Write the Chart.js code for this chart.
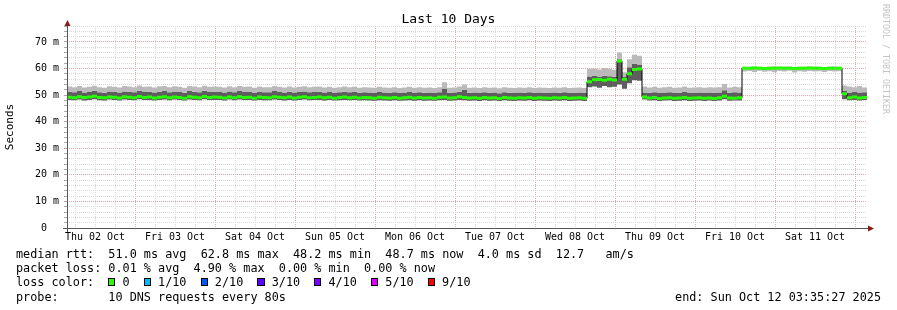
<!DOCTYPE html>
<html>
<head>
<meta charset="utf-8">
<script src="https://cdn.jsdelivr.net/npm/chart.js@4/dist/chart.umd.min.js"></script>
<style>
  html, body { margin:0; padding:0; background:#fff; }
  #wrap { position:relative; width:897px; height:310px; overflow:hidden;
          font-family:"DejaVu Sans Mono", monospace; color:#000; }
  #grafico { position:absolute; left:0; top:0; }
  #titulo { position:absolute; left:0; top:11px; width:897px; text-align:center;
            font-size:13px; line-height:16px; }
  #credito { position:absolute; left:881px; top:4px; writing-mode:vertical-rl;
             font-size:8.3px; color:#c4c4c4; }
  #rodape { position:absolute; left:16px; top:247px; width:865px;
            font-size:11.8px; line-height:14.2px; }
  #rodape > div { white-space:pre; height:14.2px; }
  .caixa { display:inline-block; width:1ch; height:8px; box-sizing:border-box;
           border:1px solid #000; vertical-align:middle; margin-top:-2px; }
  .ultima { display:flex; justify-content:space-between; }
</style>
</head>
<body>
<div id="wrap">
  <canvas id="grafico" width="897" height="310"></canvas>
  <div id="titulo">Last 10 Days</div>
  <div id="credito">RRDTOOL / TOBI OETIKER</div>
  <div id="rodape"><div>median rtt:  51.0 ms avg  62.8 ms max  48.2 ms min  48.7 ms now  4.0 ms sd  12.7   am/s</div><div>packet loss: 0.01 % avg  4.90 % max  0.00 % min  0.00 % now</div><div id="linhaPerda"></div><div class="ultima"><span>probe:       10 DNS requests every 80s</span><span>end: Sun Oct 12 03:35:27 2025</span></div></div>
</div>

<script>
// ===============================
// DADOS (um ponto a cada 1,5 h, início Thu 02 Oct 03:35)
// ===============================
const PASSO = 1.5;          // horas por amostra
const TOTAL_HORAS = 240;    // 10 dias
const MEIA_NOITE = 20.409;  // primeira meia-noite (Fri 03 Oct 00:00) em horas

const dias = ["Thu 02 Oct","Fri 03 Oct","Sat 04 Oct","Sun 05 Oct","Mon 06 Oct",
              "Tue 07 Oct","Wed 08 Oct","Thu 09 Oct","Fri 10 Oct","Sat 11 Oct"];

// mediana rtt (ms)
const mediana = [
  49.2,49.0,49.4,49.1,49.3,49.6,49.1,49.0,49.3,49.2,
  48.9,49.4,49.2,49.0,49.5,49.1,49.3,48.9,49.2,49.4,
  49.0,49.3,49.1,48.8,49.4,49.2,49.0,49.5,49.1,49.3,
  49.2,48.9,49.3,49.0,49.4,49.1,49.2,48.8,49.3,49.1,
  49.0,49.4,49.2,49.0,49.3,48.9,49.2,49.4,49.0,49.1,
  49.3,49.0,49.2,48.8,49.1,49.3,49.0,49.2,48.9,49.1,
  49.0,48.8,49.2,49.0,48.9,49.1,48.8,49.0,49.2,48.9,
  49.1,48.9,49.0,48.8,49.2,49.3,48.9,49.0,49.4,49.1,
  48.9,49.0,48.8,49.1,48.9,49.0,48.7,49.1,48.9,48.8,
  49.0,48.9,49.1,48.8,49.0,48.9,48.8,49.0,48.9,49.1,
  48.8,48.9,49.0,48.8,55.0,55.8,55.9,55.6,56.0,55.7,
  62.8,56.0,58.0,59.6,59.8,49.3,48.9,49.1,48.7,48.9,
  49.0,48.8,48.9,49.1,48.8,48.9,49.0,48.8,48.9,48.7,
  49.0,49.6,48.9,48.8,49.0,60.1,60.1,60.2,60.1,60.0,
  60.1,60.1,60.2,60.1,60.1,60.0,60.1,60.1,60.2,60.1,
  60.1,60.0,60.1,60.1,60.1,50.5,49.0,49.3,48.9,49.1
];

// fumaça: topo (claro)
const fumacaAlta = [
  53.2,53.0,53.4,52.9,53.1,53.5,53.0,52.8,53.3,53.1,
  52.9,53.4,53.2,53.0,53.6,53.1,53.2,52.9,53.3,53.4,
  53.0,53.3,53.1,52.8,53.4,53.2,53.0,53.5,53.1,53.2,
  53.1,52.9,53.3,53.0,53.4,53.1,53.2,52.8,53.2,53.0,
  53.0,53.4,53.1,52.9,53.2,52.9,53.1,53.3,53.0,53.1,
  53.2,52.9,53.1,52.8,53.0,53.2,53.0,53.1,52.8,53.0,
  52.9,52.8,53.1,52.9,52.8,53.0,52.7,52.9,53.1,52.8,
  53.0,52.8,52.9,52.7,53.0,54.8,52.8,52.9,53.2,54.0,
  52.8,52.9,52.7,53.0,52.8,52.9,52.6,53.0,52.8,52.7,
  52.9,52.8,53.0,52.7,52.9,52.8,52.7,52.9,52.8,53.0,
  52.7,52.8,52.9,52.7,59.8,60.0,59.6,60.2,59.9,59.5,
  66.0,58.6,63.5,65.2,64.8,53.2,52.9,53.1,52.8,53.0,
  53.1,52.8,52.9,53.2,52.8,52.9,53.0,52.8,53.0,52.9,
  53.0,54.2,52.9,53.1,53.0,60.7,60.7,60.8,60.7,60.6,
  60.7,60.8,60.7,60.7,60.8,60.6,60.7,60.7,60.8,60.7,
  60.7,60.6,60.7,60.8,60.7,53.6,53.2,53.0,53.4,52.9
];

// fumaça: início da faixa escura
const fumacaMeio = [
  51.3,51.1,51.5,51.0,51.2,51.6,51.1,50.9,51.4,51.2,
  51.0,51.4,51.3,51.1,51.6,51.2,51.3,51.0,51.3,51.5,
  51.1,51.4,51.2,50.9,51.5,51.3,51.1,51.6,51.2,51.3,
  51.2,51.0,51.4,51.1,51.5,51.2,51.3,50.9,51.3,51.1,
  51.1,51.5,51.2,51.0,51.3,51.0,51.2,51.4,51.1,51.2,
  51.3,51.0,51.2,50.9,51.1,51.3,51.1,51.2,50.9,51.1,
  51.0,50.9,51.2,51.0,50.9,51.1,50.8,51.0,51.2,50.9,
  51.1,50.9,51.0,50.8,51.1,52.5,50.9,51.0,51.3,52.0,
  50.9,51.0,50.8,51.1,50.9,51.0,50.7,51.1,50.9,50.8,
  51.0,50.9,51.1,50.8,51.0,50.9,50.8,51.0,50.9,51.1,
  50.8,50.9,51.0,50.8,57.0,57.2,56.8,57.3,57.1,56.9,
  63.5,57.0,60.5,61.8,61.5,51.0,50.9,51.1,50.8,51.0,
  51.1,50.8,50.9,51.2,50.8,50.9,51.0,50.8,51.0,50.9,
  51.0,51.8,50.9,51.1,51.0,58.9,59.1,58.7,59.2,58.8,
  59.0,58.6,59.1,58.9,59.2,58.5,59.0,58.8,59.1,58.9,
  59.0,58.7,59.1,58.9,59.0,51.5,51.0,51.2,51.0,51.1
];

// fumaça: base
const fumacaBaixa = [
  48.2,48.1,48.3,48.0,48.2,48.4,48.1,48.0,48.3,48.2,
  48.0,48.3,48.2,48.1,48.4,48.2,48.2,48.0,48.2,48.3,
  48.1,48.3,48.2,48.0,48.3,48.2,48.1,48.4,48.2,48.2,
  48.2,48.0,48.3,48.1,48.3,48.2,48.2,48.0,48.2,48.1,
  48.1,48.3,48.2,48.0,48.2,48.0,48.2,48.3,48.1,48.2,
  48.2,48.0,48.2,48.0,48.1,48.2,48.1,48.2,48.0,48.1,
  48.0,47.9,48.1,48.0,47.9,48.1,47.9,48.0,48.1,47.9,
  48.1,47.9,48.0,47.9,48.1,48.2,47.9,48.0,48.2,48.1,
  47.9,48.0,47.8,48.1,47.9,48.0,47.8,48.1,47.9,47.8,
  48.0,47.9,48.1,47.8,48.0,47.9,47.8,48.0,47.9,48.1,
  47.8,47.9,48.0,47.8,53.0,53.2,52.8,53.4,53.0,53.1,
  54.0,52.4,54.5,55.6,55.4,48.3,48.0,48.1,47.8,48.0,
  48.1,47.8,47.9,48.1,47.8,47.9,48.0,47.8,48.0,47.8,
  48.0,48.4,47.9,48.0,48.0,58.9,59.1,58.7,59.2,58.8,
  59.0,58.6,59.1,58.9,59.2,58.5,59.0,58.8,59.1,58.9,
  59.0,58.7,59.1,58.9,59.0,48.4,48.1,48.2,48.0,48.2
];

// legenda de perda
const perdaRotulos = ["0","1/10","2/10","3/10","4/10","5/10","9/10"];
const perdaCores   = ["#26ff00","#00b8ff","#0059ff","#5e00ff","#7e00ff","#dd00ff","#ff0000"];


// ===============================
// LEGENDA DE PERDA
// ===============================
function montarLegendaPerda(){
  const el = document.getElementById("linhaPerda");
  let html = "loss color:  ";
  perdaRotulos.forEach((r,i) => {
    html += `<span class="caixa" style="background:${perdaCores[i]}"></span> ${r}  `;
  });
  el.innerHTML = html;
}


// ===============================
// SÉRIES
// ===============================
function degraus(vals){
  const pts = vals.map((v,i) => ({x: i*PASSO, y: v}));
  pts.push({x: vals.length*PASSO, y: vals[vals.length-1]});
  return pts;
}

// só os trechos horizontais (as subidas ficam na linha preta)
function trechos(vals){
  const pts = [];
  vals.forEach((v,i) => {
    pts.push({x: i*PASSO, y: v});
    pts.push({x: (i+1)*PASSO, y: v});
    pts.push({x: (i+1)*PASSO, y: null});
  });
  return pts;
}


// ===============================
// EIXOS
// ===============================
const marcasX = [];
for(let t = MEIA_NOITE - 18; t <= TOTAL_HORAS; t += 6) marcasX.push(t);

const marcasY = [];
for(let v = 0; v <= 76; v += 2) marcasY.push(v);

const COR_GRADE = "#d8d8d8";
const COR_GRADE_MAIOR = "#f4a0a0";

function faseDia(v){
  const k = Math.round((v - MEIA_NOITE) / 6);
  return ((k % 4) + 4) % 4;   // 0 = meia-noite, 2 = meio-dia
}

function rotuloDia(v){
  if(faseDia(v) !== 2) return "";
  const d = Math.floor((v - MEIA_NOITE + 24) / 24);
  return dias[d] || "";
}

const setas = {
  id: "setas",
  afterDatasetsDraw(chart){
    const {ctx, chartArea: a} = chart;
    const x0 = Math.round(a.left) + 0.5;
    const y0 = Math.round(a.bottom) + 0.5;
    ctx.save();
    ctx.strokeStyle = "#555";
    ctx.lineWidth = 1;
    ctx.beginPath();
    ctx.moveTo(x0, a.bottom + 4);
    ctx.lineTo(x0, a.top - 3);
    ctx.moveTo(a.left - 4, y0);
    ctx.lineTo(a.right + 2, y0);
    ctx.stroke();

    ctx.fillStyle = "#8b1a1a";
    ctx.beginPath();
    ctx.moveTo(x0, a.top - 6);
    ctx.lineTo(x0 - 3, a.top);
    ctx.lineTo(x0 + 3, a.top);
    ctx.fill();

    ctx.beginPath();
    ctx.moveTo(a.right + 7, y0);
    ctx.lineTo(a.right + 1, y0 - 3);
    ctx.lineTo(a.right + 1, y0 + 3);
    ctx.fill();
    ctx.restore();
  }
};


// ===============================
// GRÁFICO
// ===============================
function criarGrafico(){
  const ctx = document.getElementById("grafico");
  const fonte = {family: "DejaVu Sans Mono", size: 10};
  const semPonto = {pointRadius: 0, pointHoverRadius: 0};

  new Chart(ctx, {
    type: "line",
    data: {
      datasets: [
        { ...semPonto, data: trechos(mediana), borderColor: "#26ff00",
          borderWidth: 3, borderCapStyle: "butt", fill: false, spanGaps: false },
        { ...semPonto, data: degraus(mediana), borderColor: "#000",
          borderWidth: 1, stepped: true, fill: false },
        { ...semPonto, data: degraus(fumacaAlta), borderColor: "transparent",
          borderWidth: 1, stepped: true, fill: 3, backgroundColor: "#bababa" },
        { ...semPonto, data: degraus(fumacaMeio), borderColor: "transparent",
          borderWidth: 1, stepped: true, fill: 4, backgroundColor: "#5e5e5e" },
        { ...semPonto, data: degraus(fumacaBaixa), borderColor: "transparent",
          borderWidth: 1, stepped: true, fill: false }
      ]
    },
    options: {
      responsive: false,
      animation: false,
      devicePixelRatio: 1,
      layout: { padding: { left: 0, right: 30, top: 26, bottom: 62 } },
      plugins: { legend: { display: false }, tooltip: { enabled: false } },
      scales: {
        x: {
          type: "linear",
          min: 0,
          max: TOTAL_HORAS,
          afterBuildTicks: s => { s.ticks = marcasX.map(v => ({value: v})); },
          afterFit: s => { s.height = 20; },
          ticks: { autoSkip: false, maxRotation: 0, padding: 3, font: fonte, color: "#000",
                   callback: v => rotuloDia(v) },
          grid: { drawTicks: false,
                  color: c => faseDia(c.tick.value) === 0 ? COR_GRADE_MAIOR : COR_GRADE },
          border: { display: false, dash: [1,1] }
        },
        y: {
          min: 0,
          max: 76,
          afterBuildTicks: s => { s.ticks = marcasY.map(v => ({value: v})); },
          afterFit: s => { s.width = 67; },
          ticks: { autoSkip: false, padding: 5, font: fonte, color: "#000",
                   callback: v => v % 10 !== 0 ? "" : (v === 0 ? "0  " : v + " m") },
          grid: { tickLength: 3, tickColor: "#aaa",
                  color: c => (c.tick.value % 10 === 0 && c.tick.value > 0) ? COR_GRADE_MAIOR : COR_GRADE },
          border: { display: false, dash: [1,1] },
          title: { display: true, text: "Seconds", color: "#000",
                   font: {family: "DejaVu Sans Mono", size: 11}, padding: {top: 4, bottom: 0} }
        }
      }
    },
    plugins: [setas]
  });
}


// ===============================
// INIT
// ===============================
montarLegendaPerda();
criarGrafico();
</script>
</body>
</html>
